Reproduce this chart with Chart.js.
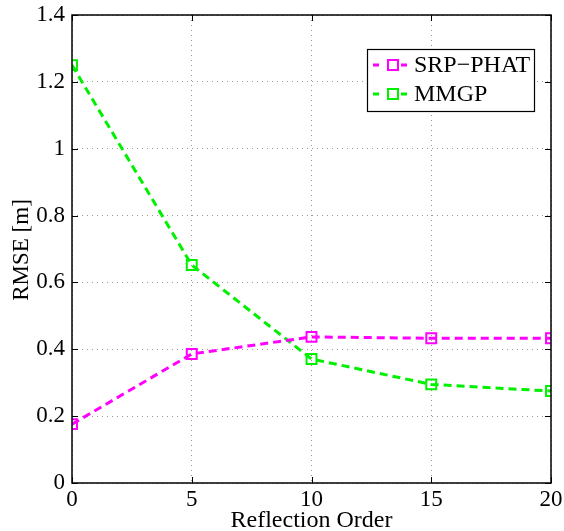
<!DOCTYPE html>
<html><head><meta charset="utf-8">
<script src="https://cdn.jsdelivr.net/npm/chart.js@4/dist/chart.umd.min.js"></script>
<style>html,body{margin:0;padding:0;background:#fff}canvas{display:block}</style>
</head><body>
<canvas id="c" width="564" height="531"></canvas>
<script>
const reflectionOrders = [0, 5, 10, 15, 20];
const srpPhat = [0.176, 0.386, 0.437, 0.433, 0.433];
const mmgp = [1.25, 0.652, 0.371, 0.295, 0.275];
const seriesNames = ['SRP\u2212PHAT', 'MMGP'];
const xTitle = 'Reflection Order';
const yTitle = 'RMSE [m]';
const FONT = 'Liberation Serif';

const frame = {
  id: 'frame',
  afterDraw(chart) {
    const ctx = chart.ctx, a = chart.chartArea;
    const xs = chart.scales.x, ys = chart.scales.y;
    ctx.save();
    ctx.strokeStyle = '#000'; ctx.lineWidth = 1.5; ctx.setLineDash([]);
    ctx.strokeRect(a.left, a.top, a.right - a.left, a.bottom - a.top);
    ctx.lineWidth = 1;
    xs.ticks.forEach(t => {
      const px = Math.round(xs.getPixelForValue(t.value)) + 0.5;
      ctx.beginPath(); ctx.moveTo(px, a.bottom); ctx.lineTo(px, a.bottom - 6);
      ctx.moveTo(px, a.top); ctx.lineTo(px, a.top + 6); ctx.stroke();
    });
    ys.ticks.forEach(t => {
      const py = Math.round(ys.getPixelForValue(t.value)) + 0.5;
      ctx.beginPath(); ctx.moveTo(a.left, py); ctx.lineTo(a.left + 6, py);
      ctx.moveTo(a.right, py); ctx.lineTo(a.right - 6, py); ctx.stroke();
    });
    // axis titles
    ctx.fillStyle = '#000';
    ctx.font = '24px "' + FONT + '"';
    ctx.textAlign = 'center'; ctx.textBaseline = 'alphabetic';
    ctx.fillText(xTitle, (a.left + a.right) / 2, 527);
    ctx.save();
    ctx.translate(28, 250);
    ctx.rotate(-Math.PI / 2);
    ctx.font = '23px "' + FONT + '"';
    ctx.fillText(yTitle, 0, 0);
    ctx.restore();
    // legend
    const lx = 367, ly = 49, lw = 167, lh = 62;
    ctx.fillStyle = '#fff';
    ctx.fillRect(lx, ly, lw, lh);
    ctx.strokeStyle = '#000'; ctx.lineWidth = 1.2;
    ctx.strokeRect(lx + 0.5, ly + 0.5, lw, lh);
    chart.data.datasets.forEach((ds, i) => {
      const cy = [65, 94][i];
      ctx.strokeStyle = ds.borderColor; ctx.lineWidth = 3;
      ctx.beginPath(); ctx.moveTo(373, cy); ctx.lineTo(379, cy);
      ctx.moveTo(401, cy); ctx.lineTo(407, cy); ctx.stroke();
      ctx.lineWidth = 2;
      ctx.strokeRect(388, cy - 5, 10, 10);
      ctx.fillStyle = '#000';
      ctx.font = '24px "' + FONT + '"';
      ctx.textAlign = 'left'; ctx.textBaseline = 'middle';
      ctx.fillText(ds.label, 414, cy + 1);
    });
    ctx.restore();
  }
};

new Chart(document.getElementById('c'), {
  type: 'line',
  data: {
    datasets: [
      { label: seriesNames[0], data: reflectionOrders.map((x, i) => ({ x, y: srpPhat[i] })),
        borderColor: '#ff00ff', pointBorderColor: '#ff00ff', backgroundColor: 'rgba(0,0,0,0)' },
      { label: seriesNames[1], data: reflectionOrders.map((x, i) => ({ x, y: mmgp[i] })),
        borderColor: '#00f000', pointBorderColor: '#00f000', backgroundColor: 'rgba(0,0,0,0)' }
    ].map(d => Object.assign(d, {
      borderWidth: 3, borderDash: [8, 5], pointStyle: 'rect', pointRadius: 7,
      pointBorderWidth: 2, pointBackgroundColor: 'rgba(0,0,0,0)', tension: 0, fill: false
    }))
  },
  options: {
    responsive: false, animation: false, devicePixelRatio: 1,
    layout: { padding: { top: 15, right: 13, left: 0, bottom: 0 } },
    plugins: { legend: { display: false }, tooltip: { enabled: false } },
    scales: {
      x: {
        type: 'linear', min: 0, max: 20,
        afterFit: s => { s.height = 48; s.paddingLeft = 0; s.paddingRight = 0; },
        ticks: { stepSize: 5, color: '#000', font: { family: FONT, size: 23 }, padding: 3, maxRotation: 0 },
        grid: { color: '#999', lineWidth: 1, drawTicks: false },
        border: { display: false, dash: [1, 4] }
      },
      y: {
        min: 0, max: 1.4,
        afterFit: s => { s.width = 72; s.paddingTop = 0; s.paddingBottom = 0; },
        ticks: { stepSize: 0.2, color: '#000', font: { family: FONT, size: 23 }, padding: 7,
          callback: v => String(Math.round(v * 10) / 10) },
        grid: { color: '#999', lineWidth: 1, drawTicks: false },
        border: { display: false, dash: [1, 4] }
      }
    }
  },
  plugins: [frame]
});
</script>
</body></html>
